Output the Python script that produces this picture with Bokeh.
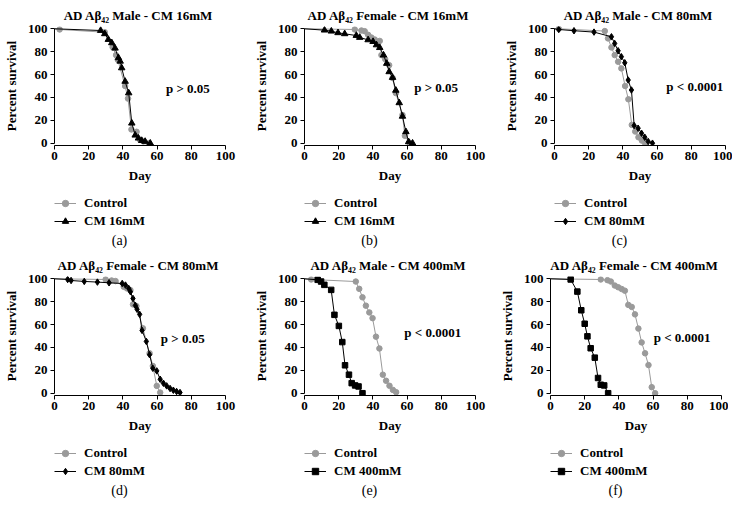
from bokeh.plotting import figure
from bokeh.layouts import column, row
from bokeh.models import Range1d, FixedTicker, Legend, LegendItem
from bokeh.core.properties import value
from bokeh.embed import file_html
from bokeh.resources import INLINE

FONT = "Liberation Serif"
GRAY = "#9a9a9a"

ticks = [0, 20, 40, 60, 80, 100]

# ---- data ----
a_ctrl_day = [0, 3, 29.4, 34, 36, 37, 41.3, 43, 45, 48, 50, 52, 55]
a_ctrl_surv = [100, 99.4, 97, 84, 77, 73, 50, 39, 12, 10, 3, 1.5, 0]
a_cm_day = [0, 27, 29.4, 31.5, 33.5, 35.4, 37.4, 38.4, 39.3, 41.3, 43.4, 45.2, 47.2, 49.1, 51, 53, 56]
a_cm_surv = [100, 98.5, 95.6, 90.6, 87.7, 83, 74.6, 71.6, 65.8, 54, 43.9, 17.5, 7, 4.4, 2.3, 1.5, 0]

b_ctrl_day = [0, 29.4, 33.3, 35.2, 37.2, 39.1, 41.1, 44, 45, 47.2, 49.5, 51.5, 53.4, 57.3, 58.7, 61.3]
b_ctrl_surv = [100, 99.4, 98.5, 97.9, 94.7, 92.4, 90.6, 89.4, 77, 73.5, 68.2, 57, 43.8, 24.7, 6.5, 0.6]
b_cm_day = [0, 11.7, 15.7, 19.6, 23.5, 30.3, 32.3, 37.2, 40.1, 42.1, 44, 46.2, 48.1, 49.5, 51.5, 53.4, 55.4, 57.3, 59.3, 60.9, 63.2]
b_cm_surv = [100, 98.8, 97.9, 96.5, 95.6, 94.1, 92.4, 90.3, 88.8, 85.9, 83.5, 77, 69.7, 62.4, 57.4, 46.2, 35.3, 23.5, 10, 1.2, 0]

c_ctrl_day = [0, 2.5, 29.4, 31.3, 33.3, 35.2, 37.2, 39.1, 41.3, 43.2, 45.2, 47.2, 49.1, 51.1, 53]
c_ctrl_surv = [100, 100, 98, 91.6, 83.7, 77, 71.2, 65.4, 50, 38.4, 16, 10.2, 5.2, 2.3, 0]
c_cm_day = [0, 2.5, 11.4, 23.1, 33.3, 35.2, 37.2, 39.1, 41.1, 43.1, 45, 46.6, 48.9, 50.9, 52.8, 54.8, 57.3]
c_cm_surv = [100, 99.4, 98.3, 97.1, 93, 87.2, 80.8, 75.6, 70.3, 55.2, 46.5, 15.4, 13.1, 8.7, 5.2, 1.5, 0]

d_ctrl_day = [0, 29.9, 33.4, 35.7, 40.5, 42.4, 44.4, 45.9, 47.9, 51.7, 55.6, 57.5, 59.8, 61.8]
d_ctrl_surv = [100, 99.4, 98.5, 98, 93, 91.6, 90.1, 77.6, 76.2, 56.7, 34.9, 23.8, 6.4, 0.6]
d_cm_day = [0, 7.7, 9.7, 17.4, 25.1, 31.9, 39.6, 41.5, 43.4, 44.4, 45.9, 47.3, 48.3, 49.8, 51.2, 53.7,
            55.6, 57.5, 59.8, 61.8, 63.7, 65.6, 67.6, 69.5, 71.4, 73.4]
d_cm_surv = [100, 99.4, 98.5, 97.7, 97.1, 96.5, 95.9, 94.5, 91.6, 88.7, 82.8, 76.7, 73.3, 68.9, 54.9, 45.3,
             33.7, 21.8, 19.5, 12.2, 8.7, 6.4, 4.1, 2.6, 1.5, 0.6]

e_ctrl_day = [0, 3.9, 30, 32, 33.9, 35.9, 37.9, 39.8, 41.8, 43.8, 45.8, 47.7, 49.7, 51.7, 53.6]
e_ctrl_surv = [100, 99.4, 97.6, 91.2, 83.8, 76.5, 70.6, 65.6, 49.4, 39.1, 16.2, 10.9, 6.5, 2.9, 0.9]
e_cm_day = [0, 7.7, 9.7, 11.6, 15.6, 17.5, 20.1, 22.1, 23.7, 26, 27.6, 29.6, 31.6, 33.9]
e_cm_surv = [100, 99.1, 97.6, 94.7, 90.3, 68.5, 58.8, 44.7, 24.4, 16.2, 8.8, 6.8, 5.9, 0]

f_ctrl_day = [0, 29.4, 33.3, 35.3, 37.6, 39.6, 41.6, 43.5, 45.5, 47.5, 49.4, 51.4, 53.3, 55.3, 57.3, 59.2, 61.2]
f_ctrl_surv = [100, 99.4, 98.8, 97.6, 94.1, 92.6, 91.1, 89.6, 77.2, 75.4, 68.9, 56.5, 44.4, 34.9, 24.6, 5.3, 0]
f_cm_day = [0, 11.8, 15.7, 18, 20, 21.6, 23.5, 25.9, 27.8, 29.4, 31.4, 33.7]
f_cm_surv = [100, 99.4, 88.8, 72.5, 60.7, 49.7, 39.3, 31.1, 13.3, 7.4, 6.8, 0]

titles = ["AD A\u03b2\u2084\u2082  Male - CM 16mM", "AD A\u03b2\u2084\u2082  Female - CM 16mM",
          "AD A\u03b2\u2084\u2082  Male - CM 80mM", "AD A\u03b2\u2084\u2082  Female - CM 80mM",
          "AD A\u03b2\u2084\u2082  Male - CM 400mM", "AD A\u03b2\u2084\u2082  Female - CM 400mM"]
cm_labels = ["CM 16mM", "CM 16mM", "CM 80mM", "CM 80mM", "CM 400mM", "CM 400mM"]
p_values = ["p > 0.05", "p > 0.05", "p < 0.0001", "p > 0.05", "p < 0.0001", "p < 0.0001"]
p_pos_x = [78, 77, 82, 75, 75, 77]
p_pos_y = [48, 49, 50, 48, 53, 49]
captions = ["(a)", "(b)", "(c)", "(d)", "(e)", "(f)"]
markers = ["triangle", "triangle", "diamond", "diamond", "square", "square"]
marker_sizes = [6.5, 6.5, 6.5, 6.5, 5.5, 5.5]
key_marker_sizes = [5, 5, 5, 5, 4.5, 4.5]

series = [
    (a_ctrl_day, a_ctrl_surv, a_cm_day, a_cm_surv),
    (b_ctrl_day, b_ctrl_surv, b_cm_day, b_cm_surv),
    (c_ctrl_day, c_ctrl_surv, c_cm_day, c_cm_surv),
    (d_ctrl_day, d_ctrl_surv, d_cm_day, d_cm_surv),
    (e_ctrl_day, e_ctrl_surv, e_cm_day, e_cm_surv),
    (f_ctrl_day, f_ctrl_surv, f_cm_day, f_cm_surv),
]

panel_w = [245, 245, 227, 245, 245, 227]
border_left = [49, 49, 49, 49, 53, 49]
FRAME_W, FRAME_H = 171, 119
TOP, BOTTOM = 26, 42
LEG_H = 250 - TOP - FRAME_H - BOTTOM
KEY_H = 34
KEY_TOP = 8


def make_panel(i):
    cd, cs, md, ms = series[i]
    W = panel_w[i]
    bl = border_left[i]
    br = W - bl - FRAME_W
    p = figure(frame_width=FRAME_W, frame_height=FRAME_H,
               x_range=Range1d(0, 100), y_range=Range1d(-2, 102),
               output_backend="svg", toolbar_location=None,
               min_border_left=bl, min_border_right=br,
               min_border_top=TOP, min_border_bottom=BOTTOM,
               outline_line_color=None, background_fill_color="white",
               border_fill_color="white")
    p.title.text = titles[i]
    p.title.align = "center"
    p.title.text_font = FONT
    p.title.text_font_size = "13px"
    p.title.text_font_style = "bold"
    p.title.text_color = "black"
    p.title.standoff = 7

    p.xgrid.visible = False
    p.ygrid.visible = False
    for ax in (p.xaxis[0], p.yaxis[0]):
        ax.ticker = FixedTicker(ticks=ticks)
        ax.bounds = (0, 100)
        ax.major_tick_in = 0
        ax.major_tick_out = 4
        ax.minor_tick_in = 0
        ax.minor_tick_out = 0
        ax.axis_line_color = "black"
        ax.major_tick_line_color = "black"
        ax.major_label_text_font = FONT
        ax.major_label_text_font_style = "bold"
        ax.major_label_text_font_size = "13px"
        ax.major_label_text_color = "black"
        ax.axis_label_text_font = FONT
        ax.axis_label_text_font_style = "bold"
        ax.axis_label_text_font_size = "13px"
        ax.axis_label_text_color = "black"
    p.xaxis.axis_label = "Day"
    p.yaxis.axis_label = "Percent survival"
    p.xaxis.major_label_standoff = 2
    p.xaxis.axis_label_standoff = 5
    p.yaxis.major_label_standoff = 3
    p.yaxis.axis_label_standoff = 6

    p.line(cd, cs, line_color=GRAY, line_width=1)
    p.scatter(cd[1:], cs[1:], marker="circle", size=5.5, fill_color=GRAY, line_color=GRAY)
    p.line(md, ms, line_color="black", line_width=1)
    p.scatter(md[1:], ms[1:], marker=markers[i], size=marker_sizes[i],
              fill_color="black", line_color="black")

    p.text(x=[p_pos_x[i]], y=[p_pos_y[i]], text=[p_values[i]], text_font=value(FONT),
           text_font_size="13px", text_font_style="bold", text_align="center",
           text_baseline="middle", text_color="black")

    # legend + caption strip under the chart, with a frame aligned to the chart's frame
    q = figure(frame_width=FRAME_W, frame_height=LEG_H,
               x_range=Range1d(0, FRAME_W), y_range=Range1d(0, LEG_H),
               output_backend="svg", toolbar_location=None,
               min_border_left=bl, min_border_right=br,
               min_border_top=0, min_border_bottom=0,
               x_axis_location=None, y_axis_location=None,
               outline_line_color=None, background_fill_color="white",
               border_fill_color="white")
    q.xgrid.visible = False
    q.ygrid.visible = False
    ql1 = q.line(cd, cs, line_color=GRAY, line_width=1, visible=False)
    qs1 = q.scatter(cd[1:], cs[1:], marker="circle", size=4, fill_color=GRAY,
                    line_color=GRAY, visible=False)
    ql2 = q.line(md, ms, line_color="black", line_width=1, visible=False)
    qs2 = q.scatter(md[1:], ms[1:], marker=markers[i], size=key_marker_sizes[i],
                    fill_color="black", line_color="black", visible=False)
    leg = Legend(items=[LegendItem(label="Control", renderers=[ql1, qs1]),
                        LegendItem(label=cm_labels[i], renderers=[ql2, qs2])],
                 location=(0, LEG_H - KEY_TOP - KEY_H), margin=0, padding=0, spacing=2,
                 label_height=16, glyph_height=16, glyph_width=22, label_standoff=8,
                 label_text_font=FONT, label_text_font_style="bold",
                 label_text_font_size="13px", label_text_color="black",
                 border_line_color=None, background_fill_alpha=0,
                 inactive_fill_alpha=0)
    q.add_layout(leg)
    q.text(x=[65], y=[LEG_H - 53], text=[captions[i]],
           text_font=value(FONT), text_font_size="14px", text_align="center",
           text_baseline="middle", text_color="black")
    return column(p, q, spacing=0)


panels = [make_panel(i) for i in range(6)]
layout = column(row(*panels[:3], spacing=0), row(*panels[3:], spacing=0), spacing=0)

open("out.html", "w").write(file_html(layout, INLINE))
